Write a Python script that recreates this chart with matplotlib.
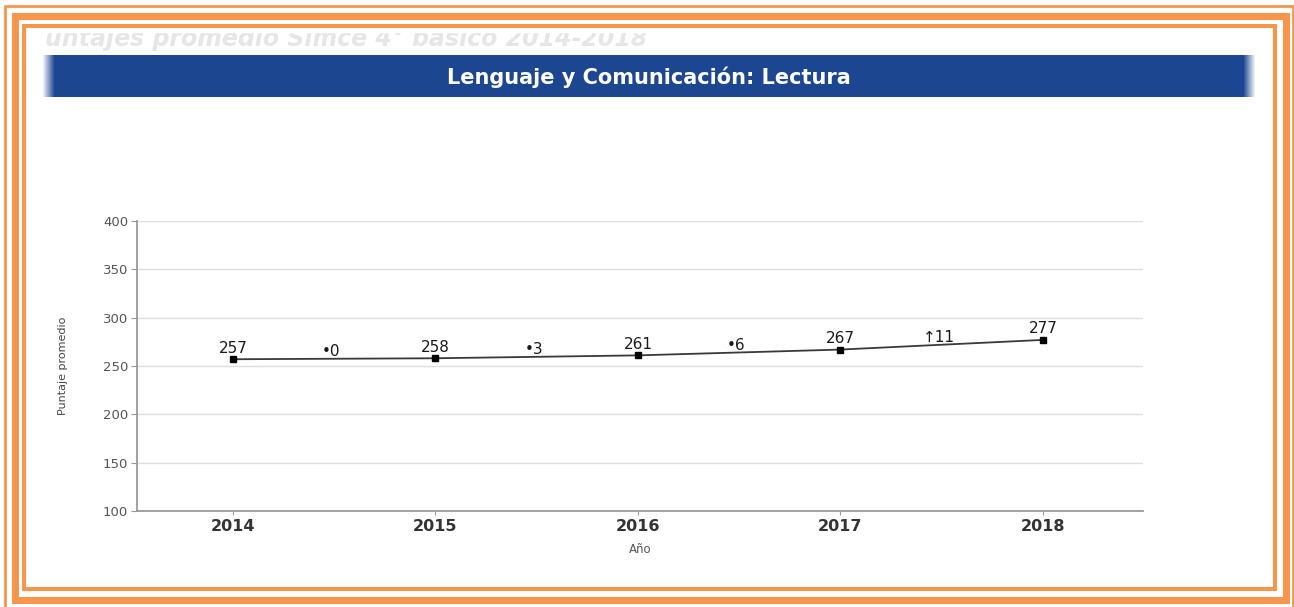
import numpy as np
import matplotlib.pyplot as plt
from matplotlib.patches import Rectangle

years = [2014, 2015, 2016, 2017, 2018]
scores = [257, 258, 261, 267, 277]
change_labels = ['\u20220', '\u20223', '\u20226', '\u219111']
ticks_y = [100, 150, 200, 250, 300, 350, 400]

title = 'Lenguaje y Comunicación: Lectura'
faded = 'untajes promedio Simce 4° básico 2014-2018'
orange = '#F7964A'

W, H = 1294, 607
fig = plt.figure(figsize=(W / 100, H / 100), dpi=100)
fig.patch.set_facecolor('white')

# background in pixel coordinates (frame, banner, faded heading)
bg = fig.add_axes([0, 0, 1, 1])
bg.set_xlim(0, W)
bg.set_ylim(H, 0)
bg.axis('off')

bg.text(45, 46, faded, fontsize=17, style='italic', fontweight='bold',
        color='#e6e6e6', family='DejaVu Sans', va='baseline', ha='left', zorder=1)
bg.add_patch(Rectangle((26, 0), 1248, 32, color='white', zorder=2))

# banner with soft edges
x0, x1, y0, y1 = 42, 1256, 55, 97
n = x1 - x0
alpha = np.clip(np.minimum(np.arange(n), n - 1 - np.arange(n)) / 12.0, 0, 1)
img = np.zeros((1, n, 4))
img[..., :3] = [0x1D / 255, 0x46 / 255, 0x90 / 255]
img[0, :, 3] = alpha
bg.imshow(img, extent=(x0, x1, y1, y0), aspect='auto', zorder=2, interpolation='nearest')
bg.text((x0 + x1) / 2, 77, title, fontsize=15, fontweight='bold', color='white',
        family='DejaVu Sans', ha='center', va='center', zorder=3)

# orange frames
bg.add_patch(Rectangle((24, 26), 1251, 563, fill=False, ec=orange, lw=2.9, zorder=4))
bg.add_patch(Rectangle((14.5, 15.5), 1271, 584.5, fill=False, ec=orange, lw=5.0, zorder=4))
bg.plot([5, 5, 1293, 1293], [H + 5, 5.5, 5.5, H + 5], color=orange, lw=2.0, zorder=4)

# chart
ax = fig.add_axes([137 / W, 1 - 511 / H, (1143 - 137) / W, (511 - 221) / H])
ax.set_facecolor('none')
ax.plot(years, scores, color='#3a3a3a', lw=1.3, marker='s', markersize=4.5,
        markerfacecolor='black', markeredgecolor='black', zorder=3)

for x, y in zip(years, scores):
    ax.annotate(str(y), (x, y), xytext=(0, 8), textcoords='offset points',
                ha='center', va='center', fontsize=11, color='#1a1a1a', family='DejaVu Sans')

for i, lab in enumerate(change_labels):
    mx = (years[i] + years[i + 1]) / 2
    my = (scores[i] + scores[i + 1]) / 2
    ax.annotate(lab, (mx, my), xytext=(-2, 5), textcoords='offset points',
                ha='center', va='center', fontsize=11, color='#1a1a1a', family='DejaVu Sans')

ax.set_xlim(2013.526, 2018.494)
ax.set_ylim(100, 400)
ax.set_yticks(ticks_y)
ax.set_xticks(years)
ax.grid(axis='y', color='#dedede', lw=1)
ax.set_axisbelow(True)
for s in ['top', 'right']:
    ax.spines[s].set_visible(False)
for s in ['left', 'bottom']:
    ax.spines[s].set_color('#9a9a9a')
    ax.spines[s].set_linewidth(1.3)

ax.tick_params(axis='y', length=4.3, color='#9a9a9a', labelsize=9.5, labelcolor='#555555', pad=2)
ax.tick_params(axis='x', length=3, color='#9a9a9a', labelsize=11.5, labelcolor='#333333', pad=3)
for t in ax.get_xticklabels():
    t.set_fontweight('bold')

ax.set_ylabel('Puntaje promedio', fontsize=8, color='#444444', family='Liberation Sans Narrow')
ax.yaxis.set_label_coords(-0.069, 0.5)
ax.set_xlabel('Año', fontsize=8.5, color='#555555', labelpad=6)

plt.savefig('out.png', dpi=100, facecolor='white')
